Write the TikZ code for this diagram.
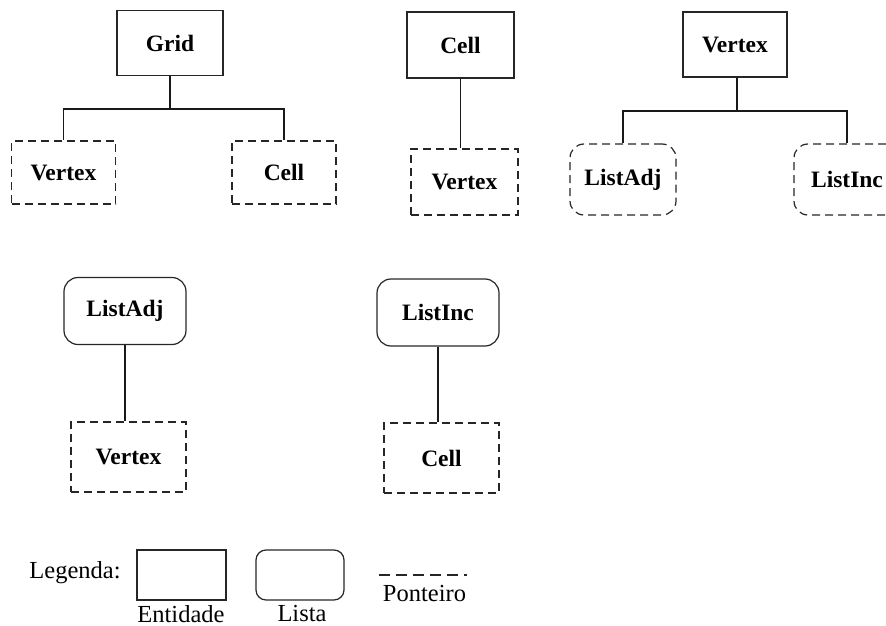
\documentclass[tikz,border=0pt]{standalone}
\usepackage{fontspec}
\setmainfont{Liberation Serif}
\begin{document}
\begin{tikzpicture}[x=1pt,y=-1pt,
  every node/.style={inner sep=0pt, font=\fontsize{23.5}{26}\selectfont\bfseries},
  entity/.style={draw=black!85, line width=1.2pt, minimum width=106pt, minimum height=65pt},
  listbox/.style={draw=black!85, line width=1.2pt, rounded corners=14pt, minimum width=122pt, minimum height=67pt},
  pointer/.style={draw=black!85, line width=1.2pt, dash pattern=on 8pt off 5pt, minimum width=106pt, minimum height=66pt},
  pointerlist/.style={pointer, rounded corners=14pt, minimum height=71pt},
  link/.style={draw=black!90, line width=1.6pt},
  legendtext/.style={font=\fontsize{24.5}{27}\selectfont}
]
\useasboundingbox (0,0) rectangle (886,626);

% Grid and its members
\node[entity] (grid) at (170,43) {Grid};
\node[pointer, minimum width=104pt, minimum height=63pt] (gv) at (63.5,172.5) {Vertex};
\node[pointer, minimum width=104pt, minimum height=63pt] (gc) at (284,172.5) {Cell};
\coordinate (gfork) at (170,109);
\draw[link] (grid.south) -- (gfork);
\draw[link] (gfork) -| (gv.north);
\draw[link] (gfork) -| (gc.north);

% Cell
\node[entity, minimum width=107pt, minimum height=66pt] (cell) at (460.5,45) {Cell};
\node[pointer, minimum width=107pt] (cv) at (464.5,182) {Vertex};
\draw[link] (cell.south) -- (cell.south |- cv.north);

% Vertex and its lists
\node[entity, minimum width=104pt] (vert) at (735,44.5) {Vertex};
\node[pointerlist, minimum width=106pt] (vla) at (623,179.5) {ListAdj};
\node[pointerlist, minimum width=106pt] (vli) at (847,179.5) {ListInc};
\coordinate (vfork) at (737,111);
\draw[link] (vert.south -| vfork) -- (vfork);
\draw[link] (vfork) -| (vla.north);
\draw[link] (vfork) -| (vli.north);

% ListAdj
\node[listbox] (la) at (125,311) {ListAdj};
\node[pointer, minimum width=115pt, minimum height=70pt] (lav) at (128.5,457) {Vertex};
\draw[link] (la.south) -- (la.south |- lav.north);

% ListInc
\node[listbox] (li) at (438,312.5) {ListInc};
\node[pointer, minimum width=115pt, minimum height=70pt] (lic) at (441.5,458) {Cell};
\draw[link] (li.south) -- (li.south |- lic.north);

% Legend
\node[legendtext] (leg) at (75,573) {Legenda:};
\node[entity, minimum width=89pt, minimum height=50pt] (kent) at (181.5,575) {};
\node[legendtext] (tent) at (181,614) {Entidade};
\node[draw=black!85, line width=1.2pt, rounded corners=10pt, minimum width=88pt, minimum height=50pt] (klist) at (300,575) {};
\node[legendtext] (tlist) at (302,614) {Lista};
\coordinate (pa) at (379,575);
\coordinate (pb) at (467,575);
\draw[black!85, line width=1.2pt, dash pattern=on 11pt off 6pt] (pa) -- (pb);
\node[legendtext] (tptr) at (424.5,594) {Ponteiro};
\end{tikzpicture}
\end{document}
